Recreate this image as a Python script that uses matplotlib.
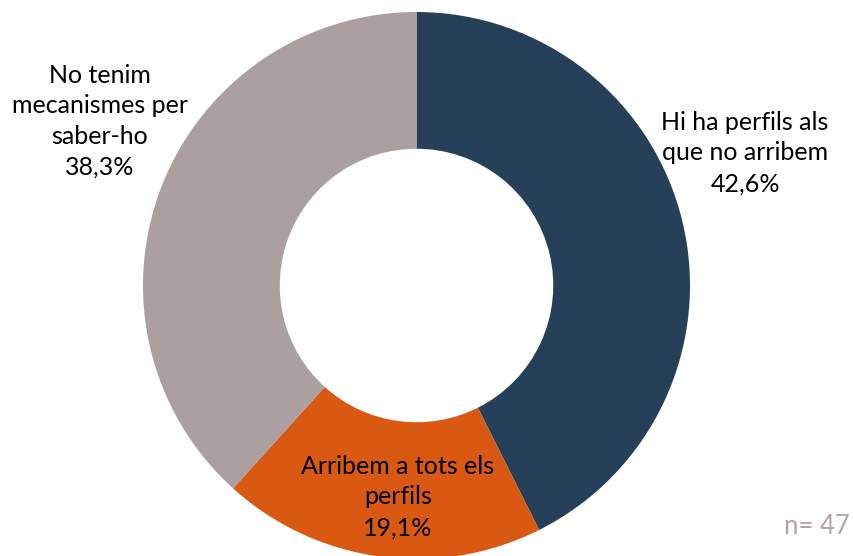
import matplotlib
matplotlib.use("Agg")
import matplotlib.pyplot as plt

# Dades de l'enquesta (n = 47)
categories = ["Hi ha perfils als\nque no arribem", "Arribem a tots els\nperfils", "No tenim\nmecanismes per\nsaber-ho"]
percentatges = [42.6, 19.1, 38.3]
colors = ["#264059", "#D95812", "#AB9F9F"]
n_total = 47

W, H = 854, 556
fig = plt.figure(figsize=(W / 100, H / 100), dpi=100)
plt.rcParams['font.family'] = ['Lato', 'DejaVu Sans']

# centre i radi del donut en píxels
cx, cy, r = 416.5, 285.5, 273.5
ax = fig.add_axes([(cx - r) / W, (H - cy - r) / H, 2 * r / W, 2 * r / H])

ax.pie(percentatges, colors=colors, startangle=90, counterclock=False, radius=1,
       wedgeprops=dict(width=0.5, edgecolor='none'))
ax.set_xlim(-1, 1)
ax.set_ylim(-1, 1)
ax.set_aspect('equal')
ax.axis('off')

def px(x, y):
    return (x - cx) / r, (cy - y) / r

# etiquetes: nom + percentatge
pos_etiquetes = [(745, 153), (398, 497), (100, 121)]
for cat, val, (x, y) in zip(categories, percentatges, pos_etiquetes):
    txt = cat + "\n" + f"{val:.1f}%".replace(".", ",")
    ax.text(*px(x, y), txt, ha='center', va='center', fontsize=18,
            color='black', linespacing=1.4)

fig.text(850 / W, 1 - 526 / H, f"n= {n_total}", ha='right', va='center',
         fontsize=18.5, color='#B0A5A5')

fig.savefig("out.png", dpi=100)
